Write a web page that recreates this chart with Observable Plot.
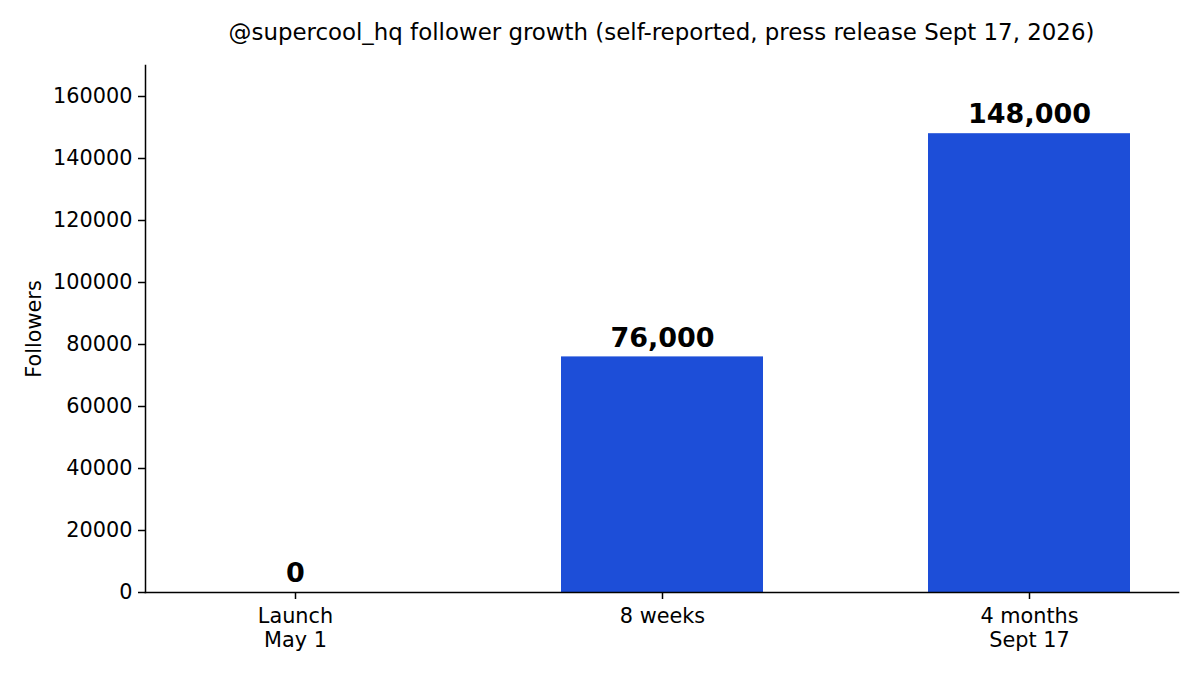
<!DOCTYPE html>
<html>
<head>
<meta charset="utf-8">
<script src="https://cdn.jsdelivr.net/npm/d3@7"></script>
<script src="https://cdn.jsdelivr.net/npm/@observablehq/plot@0.6"></script>
<style>
  html, body { margin: 0; padding: 0; background: white; }
  #wrap { position: relative; width: 1200px; height: 675px; font-family: "DejaVu Sans", sans-serif; }
  #title { position: absolute; left: 145px; width: 1033px; top: 19px; line-height: 26px; font-size: 22.9px; text-align: center; color: black; white-space: nowrap; }
</style>
</head>
<body>
<div id="wrap">
  <div id="title">@supercool_hq follower growth (self-reported, press release Sept 17, 2026)</div>
</div>
<script>
const categories = ["Launch\nMay 1", "8 weeks", "4 months\nSept 17"];
const followers = [0, 76000, 148000];
const yTicks = [0, 20000, 40000, 60000, 80000, 100000, 120000, 140000, 160000];
const yLabel = "Followers";
const barColor = "#1d4ed8";

const data = categories.map((c, i) => ({category: c, value: followers[i]}));

const chart = Plot.plot({
  width: 1200,
  height: 675,
  marginLeft: 145,
  marginRight: 22,
  marginTop: 65,
  marginBottom: 83,
  style: {fontFamily: "DejaVu Sans", fontSize: "20.8px", color: "black", background: "white"},
  x: {domain: categories, paddingInner: 0.45, paddingOuter: 0.1305, axis: null},
  y: {domain: [0, 170000], axis: null},
  marks: [
    Plot.barY(data, {x: "category", y: "value", fill: barColor}),
    Plot.text(data, {x: "category", y: "value", text: d => d3.format(",")(d.value), dy: -19, fontWeight: "bold", fontSize: 27, fill: "black"}),
    Plot.axisY({ticks: yTicks, tickFormat: d => String(d), tickSize: 7, tickPadding: 6, label: null, stroke: "black", strokeWidth: 1.5}),
    Plot.axisX({tickSize: 7, tickPadding: 7, label: null, lineHeight: 1.15, stroke: "black", strokeWidth: 1.5}),
    Plot.frame({anchor: "left", stroke: "black", strokeWidth: 1.5}),
    Plot.frame({anchor: "bottom", stroke: "black", strokeWidth: 1.5}),
    Plot.text([yLabel], {frameAnchor: "left", textAnchor: "middle", text: d => d, rotate: -90, dx: -111, fill: "black"})
  ]
});
document.getElementById("wrap").appendChild(chart);
</script>
</body>
</html>
